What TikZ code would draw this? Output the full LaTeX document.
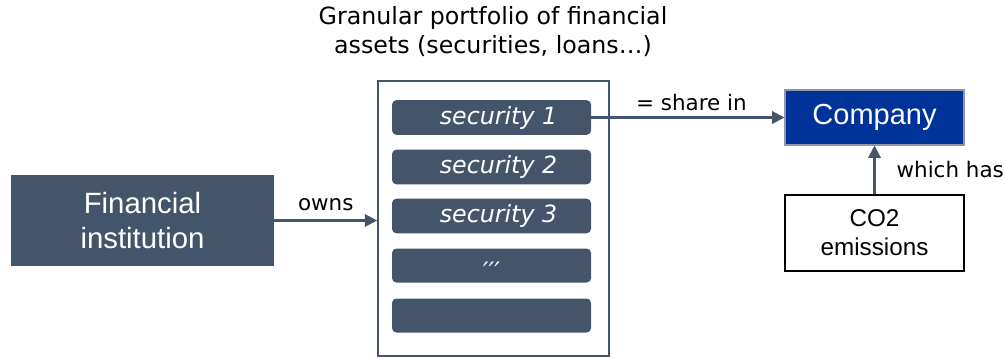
\documentclass[tikz,border=0pt]{standalone}
\usepackage{fontspec}
\setmainfont{DejaVu Sans}
\newfontfamily\boxfont{Liberation Sans}
\usepackage{xcolor}
\definecolor{slate}{HTML}{44546A}
\definecolor{corpblue}{HTML}{003399}
\usetikzlibrary{arrows.meta,positioning}
\tikzset{
    link/.style = {-{Triangle[length=7pt,width=7pt]}, slate, line width=1.2pt},
    bigbox/.style = {rectangle, fill=slate, text=white, font=\boxfont\fontsize{16.7}{19.5}\selectfont,
                     align=center, minimum width=5.26cm, minimum height=1.82cm},
    secbox/.style = {rectangle, rounded corners=2.5pt, fill=slate, text=white,
                     font=\fontsize{13.5}{16}\selectfont\itshape, minimum width=3.98cm, minimum height=0.68cm},
    lbl/.style = {text=black, font=\fontsize{12.2}{14}\selectfont, inner sep=2pt}
}
\begin{document}
\begin{tikzpicture}
    \useasboundingbox (0,0) rectangle (20.1,-7.16);

    \node[align=center, font=\fontsize{13.5}{16.5}\selectfont] (title) at (9.86,-0.64)
        {Granular portfolio of financial\\assets (securities, loans\ldots)};

    \node[bigbox] (fi) at (2.85,-4.41) {Financial\\institution};

    % portfolio frame with the securities inside
    \node[draw=slate, line width=0.9pt, minimum width=4.62cm, minimum height=5.50cm] (port) at (9.87,-4.37) {};
    \foreach \i/\t/\y in {1/\hspace{8pt}security 1/-2.35, 2/\hspace{8pt}security 2/-3.34, 3/\hspace{8pt}security 3/-4.32,
                          4/{\Large\raisebox{-0.6em}[0pt][0pt]{\char"2032\char"2032\char"2032}}/-5.31, 5/{}/-6.31}
        \node[secbox] (sec\i) at (9.83,\y) {\t};

    \node[rectangle, fill=corpblue, draw=slate!60, line width=0.6pt, text=white,
          font=\boxfont\fontsize{16.5}{19}\selectfont, minimum width=3.58cm, minimum height=1.10cm] (company) at (17.49,-2.35) {Company};
    \node[rectangle, draw=black, line width=0.9pt, align=center,
          font=\boxfont\fontsize{13.8}{16.5}\selectfont, minimum width=3.58cm, minimum height=1.52cm] (co2) at (17.49,-4.66) {CO2\\emissions};

    \draw[link] (fi.east) -- node[lbl, above=3pt] {owns} (fi.east -| port.west);
    \draw[link] (sec1.east) -- node[lbl, above=1pt, xshift=2pt] {= share in} (company.west);
    \draw[link] (co2.north) -- node[lbl, right=10pt] {which has} (company.south);
\end{tikzpicture}
\end{document}
